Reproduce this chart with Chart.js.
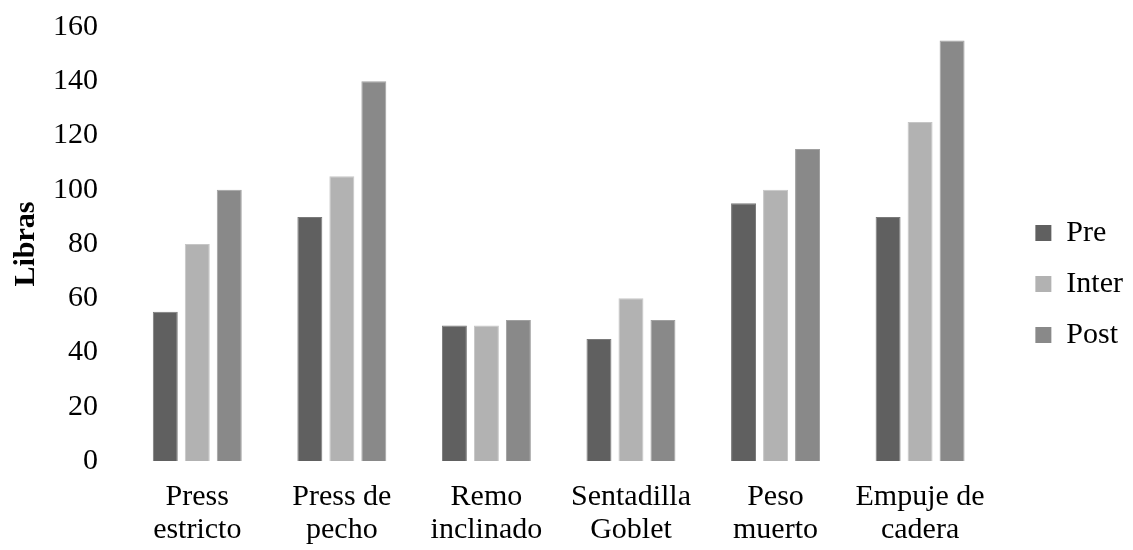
<!DOCTYPE html>
<html>
<head>
<meta charset="utf-8">
<script src="https://cdn.jsdelivr.net/npm/chart.js@4.4.1/dist/chart.umd.min.js"></script>
<style>
  html, body { margin: 0; padding: 0; background: #fff; }
  #wrap { width: 1133px; height: 550px; position: relative; }
</style>
</head>
<body>
<div id="wrap"><canvas id="liftChart"></canvas></div>
<script>
// categories and series
const categories = [
  ["Press", "estricto"],
  ["Press de", "pecho"],
  ["Remo", "inclinado"],
  ["Sentadilla", "Goblet"],
  ["Peso", "muerto"],
  ["Empuje de", "cadera"]
];
const preValues = [55, 90, 50, 45, 95, 90];
const interValues = [80, 105, 50, 60, 100, 125];
const postValues = [100, 140, 52, 52, 115, 155];
const yTicks = [0, 20, 40, 60, 80, 100, 120, 140, 160];

const serif = "'Liberation Serif', 'Times New Roman', serif";

document.addEventListener('DOMContentLoaded', function () {
  const ctx = document.getElementById('liftChart').getContext('2d');

  new Chart(ctx, {
    type: 'bar',
    data: {
      labels: categories,
      datasets: [
        { label: 'Pre', data: preValues, backgroundColor: '#606060', borderColor: '#7a7a7a' },
        { label: 'Inter', data: interValues, backgroundColor: '#b2b2b2', borderColor: '#c6c6c6' },
        { label: 'Post', data: postValues, backgroundColor: '#898989', borderColor: '#a0a0a0' }
      ]
    },
    options: {
      responsive: true,
      maintainAspectRatio: false,
      animation: false,
      layout: { padding: { top: 18, right: 0, left: 8, bottom: 0 } },
      datasets: {
        bar: { categoryPercentage: 0.664, barPercentage: 0.78, borderWidth: 1 }
      },
      plugins: {
        tooltip: { enabled: false },
        legend: {
          position: 'right',
          labels: {
            boxWidth: 16,
            boxHeight: 16,
            padding: 21,
            color: '#000',
            font: { family: serif, size: 30 },
            generateLabels: (chart) => chart.data.datasets.map((ds, i) => ({
              text: ds.label,
              fillStyle: ds.backgroundColor,
              strokeStyle: ds.backgroundColor,
              lineWidth: 0,
              fontColor: '#000',
              datasetIndex: i
            }))
          }
        }
      },
      scales: {
        x: {
          grid: { display: false, drawTicks: false },
          border: { display: false },
          ticks: {
            color: '#000',
            padding: 20,
            font: { family: serif, size: 30, lineHeight: 1.1 },
            maxRotation: 0,
            autoSkip: false
          },
          afterFit: (s) => { s.height = 89; s.paddingLeft = 0; s.paddingRight = 0; }
        },
        y: {
          min: 0,
          max: 160,
          afterBuildTicks: (axis) => { axis.ticks = yTicks.map(v => ({ value: v })); },
          grid: { display: false, drawTicks: false },
          border: { display: false },
          ticks: {
            color: '#000',
            padding: 27,
            font: { family: serif, size: 30 }
          },
          title: {
            display: true,
            text: 'Libras',
            color: '#000',
            padding: { top: 0, bottom: 8 },
            font: { family: serif, size: 30, weight: 'bold' }
          },
          afterFit: (s) => { s.width = 117; s.paddingTop = 27; s.paddingBottom = 0; }
        },
        // empty axis used only as a gap between the bars and the legend
        gap: {
          position: 'right',
          grid: { display: false, drawTicks: false },
          border: { display: false },
          ticks: { display: false },
          afterFit: (s) => { s.width = 22; s.paddingTop = 0; s.paddingBottom = 0; }
        }
      }
    }
  });
});
</script>
</body>
</html>
